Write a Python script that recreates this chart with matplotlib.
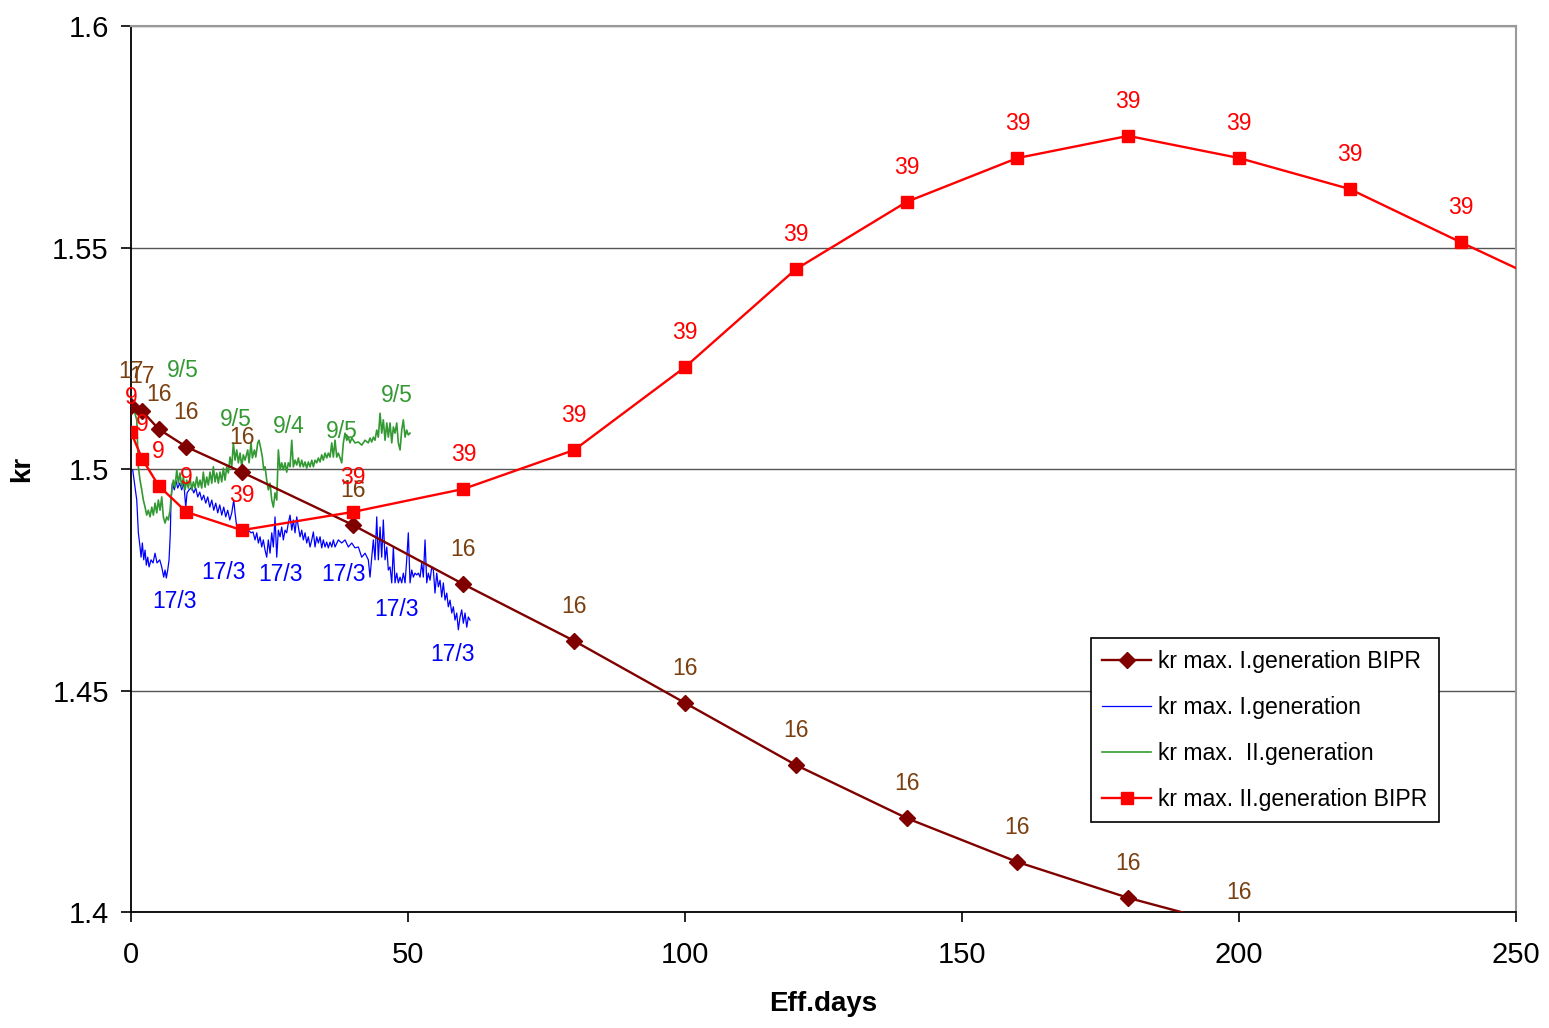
import numpy as np
import matplotlib
matplotlib.use("Agg")
import matplotlib.pyplot as plt

plt.rcParams['font.family'] = ['Liberation Sans', 'DejaVu Sans']

# kr max. I.generation BIPR
bipr1_days = [0, 2, 5, 10, 20, 40, 60, 80, 100, 120, 140, 160, 180, 200]
bipr1_kr = [1.5142, 1.5131, 1.5090, 1.5050, 1.4993, 1.4874, 1.4740, 1.4612,
            1.4472, 1.4332, 1.4212, 1.4113, 1.4032, 1.3965]
bipr1_labels = ["17", "17", "16", "16", "16", "16", "16", "16", "16", "16",
                "16", "16", "16", "16"]

# kr max. II.generation BIPR
bipr2_days = [0, 2, 5, 10, 20, 40, 60, 80, 100, 120, 140, 160, 180, 200, 220, 240, 260]
bipr2_kr = [1.5083, 1.5023, 1.4962, 1.4903, 1.4862, 1.4903, 1.4955, 1.5043,
            1.5230, 1.5451, 1.5603, 1.5702, 1.5752, 1.5702, 1.5632, 1.5512, 1.5395]
bipr2_labels = ["9", "9", "9", "9", "39", "39", "39", "39", "39", "39", "39",
                "39", "39", "39", "39", "39", "39"]

# kr max. I.generation (measured)
gen1_days = [0.3, 1.03, 1.32, 1.62, 1.81, 2.04, 2.29, 2.53, 2.76, 3.01, 3.25, 3.61,
             3.97, 4.33, 4.69, 5.18, 5.54, 5.90, 6.14, 6.37, 6.62, 6.86, 7.09, 7.22,
             7.45, 7.82, 8.07, 8.43, 8.79, 9.15, 9.51, 9.87, 10.11, 10.47, 10.96,
             11.32, 11.68, 12.04, 12.40, 12.76, 13.12, 13.48, 13.84, 14.21, 14.57,
             14.93, 15.29, 15.65, 16.01, 16.37, 16.73, 17.09, 17.45, 17.82, 18.18,
             18.54, 18.77, 19.08, 19.37, 20.04, 20.58, 21.17, 21.66, 22.02, 22.38,
             22.69, 22.98, 23.29, 23.59, 23.88, 24.19, 24.49, 24.78, 25.09, 25.40,
             25.69, 25.99, 26.30, 26.59, 26.90, 27.20, 27.49, 27.80, 28.10, 28.39,
             28.70, 29.01, 29.30, 29.60, 29.91, 30.20, 30.51, 30.81, 31.10, 31.41,
             31.71, 32.00, 32.31, 32.62, 32.91, 33.21, 33.52, 33.81, 34.12, 34.42,
             34.71, 35.02, 35.32, 35.61, 35.92, 36.23, 36.52, 36.82, 37.42, 38.03,
             38.63, 39.22, 39.84, 40.43, 41.03, 41.64, 42.24, 42.83, 43.14, 43.45,
             43.74, 44.04, 44.35, 44.64, 44.95, 45.25, 45.54, 45.85, 46.16, 46.44,
             46.75, 47.06, 47.35, 47.65, 47.96, 48.25, 48.56, 48.86, 49.15, 49.46,
             49.76, 50.05, 50.36, 50.67, 50.96, 51.26, 51.57, 51.86, 52.17, 52.47,
             52.76, 53.07, 53.38, 53.66, 53.97, 54.28, 54.57, 54.87, 55.18, 55.47,
             55.78, 56.08, 56.37, 56.68, 56.99, 57.27, 57.58, 57.89, 58.18, 58.48,
             58.79, 59.08, 59.39, 59.69, 59.98, 60.29, 60.60, 60.88, 61.19]
gen1_kr = [1.4998, 1.4930, 1.4856, 1.4824, 1.4801, 1.4833, 1.4795, 1.4817, 1.4783,
           1.4801, 1.4779, 1.4795, 1.4788, 1.4810, 1.4788, 1.4795, 1.4779, 1.4756,
           1.4772, 1.4754, 1.4772, 1.4795, 1.4856, 1.4930, 1.4968, 1.4953, 1.4975,
           1.4957, 1.4968, 1.4953, 1.4971, 1.4914, 1.4946, 1.4953, 1.4959, 1.4946,
           1.4957, 1.4937, 1.4948, 1.4930, 1.4941, 1.4923, 1.4937, 1.4914, 1.4930,
           1.4907, 1.4923, 1.4901, 1.4919, 1.4896, 1.4914, 1.4892, 1.4907, 1.4885,
           1.4901, 1.4930, 1.4901, 1.4869, 1.4869, 1.4862, 1.4869, 1.4862, 1.4856,
           1.4858, 1.4840, 1.4856, 1.4833, 1.4847, 1.4824, 1.4840, 1.4817, 1.4801,
           1.4840, 1.4810, 1.4856, 1.4824, 1.4892, 1.4801, 1.4862, 1.4847, 1.4869,
           1.4840, 1.4862, 1.4856, 1.4878, 1.4896, 1.4862, 1.4885, 1.4856, 1.4892,
           1.4869, 1.4847, 1.4862, 1.4840, 1.4856, 1.4833, 1.4847, 1.4824, 1.4840,
           1.4858, 1.4824, 1.4847, 1.4833, 1.4847, 1.4822, 1.4840, 1.4824, 1.4835,
           1.4822, 1.4835, 1.4824, 1.4840, 1.4824, 1.4840, 1.4833, 1.4840, 1.4824,
           1.4833, 1.4822, 1.4824, 1.4801, 1.4810, 1.4795, 1.4756, 1.4801, 1.4840,
           1.4795, 1.4892, 1.4795, 1.4869, 1.4801, 1.4885, 1.4795, 1.4824, 1.4772,
           1.4779, 1.4743, 1.4824, 1.4743, 1.4765, 1.4743, 1.4756, 1.4743, 1.4765,
           1.4743, 1.4795, 1.4856, 1.4743, 1.4772, 1.4756, 1.4765, 1.4761, 1.4765,
           1.4756, 1.4788, 1.4756, 1.4840, 1.4743, 1.4765, 1.4749, 1.4779, 1.4772,
           1.4720, 1.4765, 1.4734, 1.4749, 1.4711, 1.4743, 1.4704, 1.4720, 1.4689,
           1.4704, 1.4675, 1.4689, 1.4659, 1.4675, 1.4637, 1.4666, 1.4682, 1.4652,
           1.4675, 1.4643, 1.4666, 1.4659]

# kr max. II.generation (measured)
gen2_days = [0.54, 1.03, 1.32, 1.62, 1.93, 2.22, 2.53, 2.83, 3.12, 3.43, 3.74, 4.03,
             4.33, 4.64, 4.93, 5.23, 5.54, 5.83, 6.14, 6.44, 6.73, 7.04, 7.35, 7.64,
             7.94, 8.25, 8.54, 8.84, 9.15, 9.44, 9.75, 10.05, 10.34, 10.65, 10.96,
             11.25, 11.55, 11.86, 12.15, 12.45, 12.76, 13.05, 13.36, 13.66, 13.95,
             14.26, 14.57, 14.86, 15.16, 15.47, 15.76, 16.06, 16.37, 16.66, 16.97,
             17.27, 17.56, 17.87, 18.18, 18.47, 18.77, 19.08, 19.37, 19.68, 19.98,
             20.27, 20.58, 21.06, 21.30, 21.66, 21.90, 22.26, 22.51, 22.87, 23.10,
             23.47, 23.70, 23.95, 24.19, 24.49, 24.78, 25.09, 25.40, 25.69, 25.99,
             26.30, 26.59, 26.90, 27.20, 27.49, 27.80, 28.10, 28.39, 28.70, 29.01,
             29.30, 29.60, 29.91, 30.20, 30.51, 30.81, 31.10, 31.41, 31.71, 32.00,
             32.31, 32.62, 32.91, 33.21, 33.52, 33.81, 34.12, 34.42, 34.71, 35.02,
             35.32, 35.61, 35.92, 36.23, 36.52, 36.82, 37.13, 37.42, 37.73, 38.03,
             38.32, 38.63, 38.94, 39.22, 39.53, 39.84, 40.43, 41.03, 41.64, 42.24,
             42.83, 43.14, 43.45, 43.74, 44.04, 44.35, 44.64, 44.95, 45.25, 45.54,
             45.85, 46.16, 46.44, 46.75, 47.06, 47.35, 47.65, 47.96, 48.25, 48.56,
             48.86, 49.15, 49.46, 49.76, 50.05, 50.36]
gen2_kr = [1.5133, 1.5111, 1.5005, 1.4975, 1.4953, 1.4930, 1.4914, 1.4896, 1.4907,
           1.4892, 1.4914, 1.4896, 1.4923, 1.4901, 1.4930, 1.4907, 1.4937, 1.4892,
           1.4878, 1.4892, 1.4885, 1.4907, 1.4953, 1.4975, 1.4959, 1.4998, 1.4968,
           1.4991, 1.4959, 1.4982, 1.4953, 1.4975, 1.4957, 1.4980, 1.4953, 1.4971,
           1.4957, 1.4982, 1.4959, 1.4975, 1.4957, 1.4993, 1.4959, 1.4982, 1.4964,
           1.4993, 1.4968, 1.5005, 1.4971, 1.4991, 1.4968, 1.4993, 1.4971, 1.5002,
           1.4975, 1.5005, 1.4991, 1.5027, 1.5005, 1.5059, 1.5020, 1.5043, 1.5014,
           1.5036, 1.5005, 1.5032, 1.5020, 1.5043, 1.5014, 1.5059, 1.5025, 1.5043,
           1.5027, 1.5059, 1.5065, 1.5043, 1.5027, 1.4998, 1.5005, 1.4975, 1.4953,
           1.4968, 1.4930, 1.4914, 1.4946, 1.4930, 1.5043, 1.4998, 1.5014, 1.4998,
           1.5014, 1.4993, 1.5014, 1.5005, 1.5065, 1.5005, 1.5020, 1.5009, 1.5025,
           1.5005, 1.5020, 1.5005, 1.5016, 1.5002, 1.5016, 1.5005, 1.5020, 1.5005,
           1.5020, 1.5014, 1.5025, 1.5016, 1.5032, 1.5020, 1.5036, 1.5025, 1.5036,
           1.5027, 1.5059, 1.5027, 1.5065, 1.5027, 1.5036, 1.5025, 1.5014, 1.5059,
           1.5081, 1.5065, 1.5072, 1.5059, 1.5070, 1.5059, 1.5061, 1.5054, 1.5065,
           1.5059, 1.5070, 1.5061, 1.5072, 1.5065, 1.5088, 1.5072, 1.5126, 1.5081,
           1.5111, 1.5065, 1.5104, 1.5072, 1.5104, 1.5059, 1.5095, 1.5081, 1.5104,
           1.5059, 1.5043, 1.5088, 1.5111, 1.5072, 1.5088, 1.5077, 1.5081]

# free-standing labels on the measured curves (day, kr, text)
gen1_text_days = [7.8, 16.6, 26.9, 38.4, 48.0, 58.1]
gen1_text_kr = [1.4700, 1.4767, 1.4763, 1.4763, 1.4682, 1.4582]
gen1_text = ["17/3"] * 6
gen2_text_days = [9.4, 18.95, 28.5, 38.1, 48.0]
gen2_text_kr = [1.5223, 1.5111, 1.5095, 1.5084, 1.5167]
gen2_text = ["9/5", "9/5", "9/4", "9/5", "9/5"]

brown = "#800000"
brown_txt = "#7a4010"
red = "#ff0000"
blue = "#0000ff"
green = "#339933"

fig = plt.figure(figsize=(15.49, 10.28), dpi=100)
ax = fig.add_axes([0.0846, 0.1128, 0.8941, 0.8619])

ax.plot(bipr1_days, bipr1_kr, color=brown, lw=1.7, marker="D", ms=8,
        label="kr max. I.generation BIPR", zorder=4)
ax.plot(gen1_days, gen1_kr, color=blue, lw=0.9, label="kr max. I.generation", zorder=3)
ax.plot(gen2_days, gen2_kr, color=green, lw=1.2, label="kr max.  II.generation", zorder=3)
ax.plot(bipr2_days, bipr2_kr, color=red, lw=1.7, marker="s", ms=8.5,
        label="kr max. II.generation BIPR", zorder=4)

for d, k, t in zip(bipr1_days, bipr1_kr, bipr1_labels):
    ax.annotate(t, (d, k), xytext=(0, 25), textcoords="offset points",
                ha="center", va="center", fontsize=16.5, color=brown_txt,
                annotation_clip=False, zorder=5)
for d, k, t in zip(bipr2_days, bipr2_kr, bipr2_labels):
    if d <= 250:
        ax.annotate(t, (d, k), xytext=(0, 25), textcoords="offset points",
                    ha="center", va="center", fontsize=16.5, color=red,
                    annotation_clip=False, zorder=5)
for d, k, t in zip(gen1_text_days, gen1_text_kr, gen1_text):
    ax.text(d, k, t, ha="center", va="center", fontsize=16.5, color=blue, zorder=5)
for d, k, t in zip(gen2_text_days, gen2_text_kr, gen2_text):
    ax.text(d, k, t, ha="center", va="center", fontsize=16.5, color=green, zorder=5)

ax.set_xlim(0, 250)
ax.set_ylim(1.4, 1.6)
ax.set_xticks([0, 50, 100, 150, 200, 250])
ax.set_yticks([1.4, 1.45, 1.5, 1.55, 1.6])
ax.set_yticklabels(["1.4", "1.45", "1.5", "1.55", "1.6"])
ax.yaxis.grid(True, color="#555555", lw=1.0)
ax.set_axisbelow(True)
ax.tick_params(axis="both", labelsize=21, direction="out", length=7, width=1.2)
ax.tick_params(axis="x", pad=14)
ax.tick_params(axis="y", pad=9)
ax.spines["left"].set_linewidth(1.3)
ax.spines["bottom"].set_linewidth(1.3)
ax.spines["top"].set_color("#999999")
ax.spines["right"].set_color("#999999")
ax.spines["top"].set_linewidth(1.5)
ax.spines["right"].set_linewidth(1.5)

ax.set_xlabel("Eff.days", fontsize=20, fontweight="bold", labelpad=16)
ax.set_ylabel("kr", fontsize=20, fontweight="bold", labelpad=12)

leg = ax.legend(loc="upper left", bbox_to_anchor=(0.693, 0.309), fontsize=16.6,
                frameon=True, fancybox=False, edgecolor="black", framealpha=1,
                handlelength=2.1, labelspacing=1.0, borderpad=0.5,
                handletextpad=0.3, borderaxespad=0)
leg.get_frame().set_linewidth(1.2)

fig.savefig("out.png", dpi=100)
